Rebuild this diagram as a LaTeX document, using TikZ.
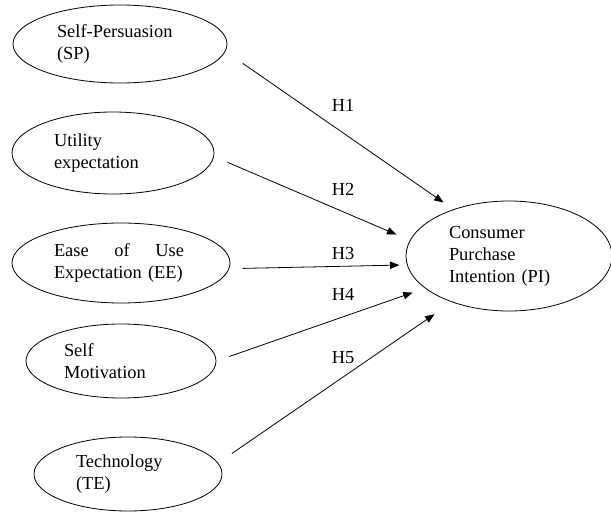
\documentclass[tikz,border=0pt]{standalone}
\usepackage{fontspec}
\setmainfont{Liberation Serif}
\usetikzlibrary{shapes.geometric,arrows.meta}
\tikzset{
  construct/.style={draw, ellipse, line width=0.6pt, inner sep=0pt, align=left,
    font=\fontsize{13.8}{16.5}\selectfont},
  hyp/.style={line width=0.6pt, -{Triangle[length=7pt,width=5.5pt]}},
  hlabel/.style={font=\fontsize{13.8}{16.5}\selectfont, inner sep=0pt}
}
\begin{document}
\begin{tikzpicture}[x={(0.75pt,0pt)}, y={(0pt,-0.75pt)}]
  \useasboundingbox (0,0) rectangle (611,514);
  % Independent constructs
  \node[construct, minimum width=160.5pt, minimum height=58.5pt, text width=94.5pt] (sp) at (120,44)
    {Self-Persuasion\\(SP)};
  \node[construct, minimum width=151.5pt, minimum height=61.5pt, text width=88.5pt] (ue) at (113,153)
    {Utility\\expectation};
  \node[construct, minimum width=163.5pt, minimum height=60pt, text width=100.5pt] (ee) at (121,263)
    {\hbox to 97.5pt{Ease\hfill of\hfill Use}\\Expectation (EE)};
  \node[construct, minimum width=142.5pt, minimum height=55.5pt, text width=85.5pt] (sm) at (121,361)
    {Self\\Motivation};
  \node[construct, minimum width=141pt, minimum height=55.5pt, text width=78pt] (te) at (128,474)
    {Technology\\(TE)};
  % Dependent construct
  \node[construct, minimum width=154.5pt, minimum height=82.5pt, text width=90pt] (pi) at (509,256)
    {Consumer\\Purchase\\Intention (PI)};
  % Hypotheses
  \draw[hyp, shorten <=15.8pt, shorten >=9pt] (sp.-4.4) -- (pi.140.5);
  \draw[hyp, shorten <=11pt, shorten >=11pt] (ue.-2.4) -- (pi.171.9);
  \draw[hyp, shorten <=10pt, shorten >=5.7pt] (ee.-3.3) -- (pi.185.6);
  \draw[hyp, shorten <=10.3pt, shorten >=9.8pt] (sm.-0.3) -- (pi.201.6);
  \draw[hyp, shorten <=12.5pt, shorten >=15.9pt] (te.7.5) -- (pi.219.2);
  \node[hlabel] (h1) at (343,105) {H1};
  \node[hlabel] (h2) at (343,189) {H2};
  \node[hlabel] (h3) at (343,253) {H3};
  \node[hlabel] (h4) at (343,294) {H4};
  \node[hlabel] (h5) at (343,358) {H5};
\end{tikzpicture}
\end{document}
